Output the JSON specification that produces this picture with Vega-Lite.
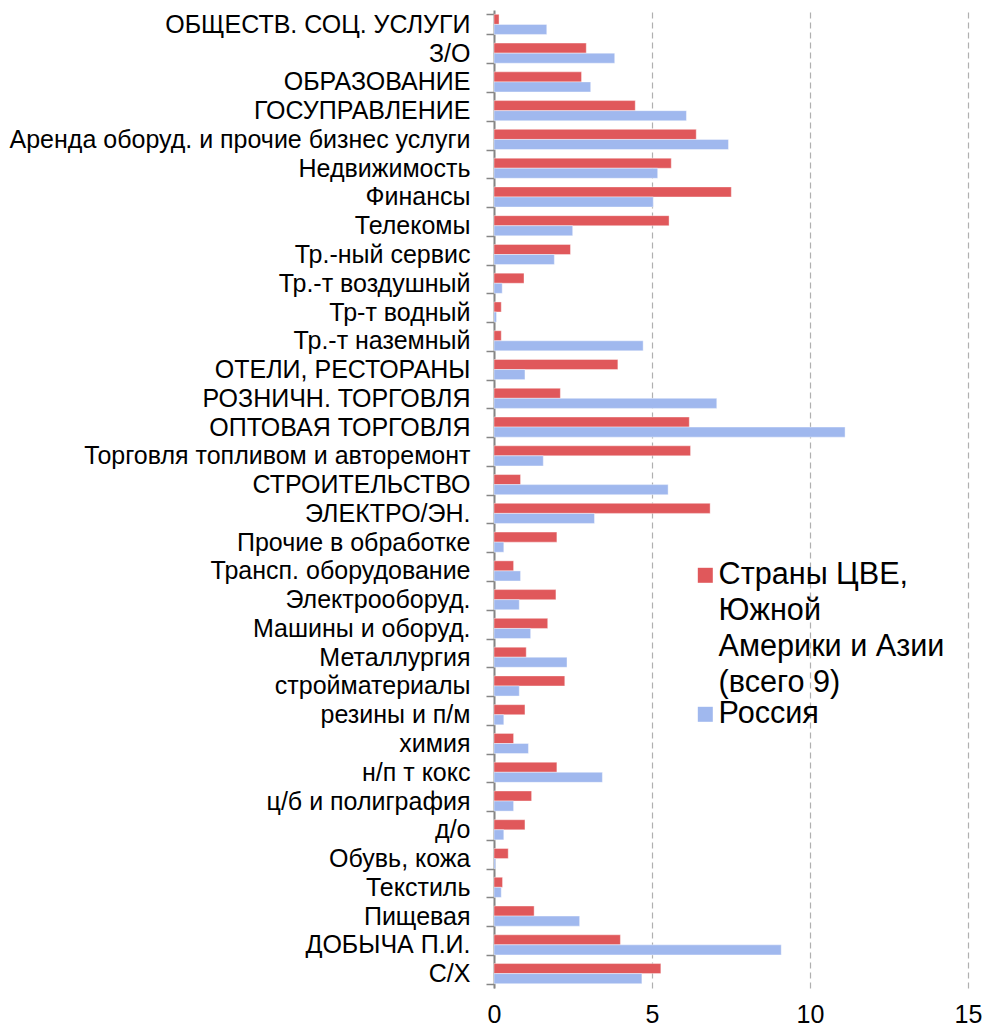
{
  "$schema": "https://vega.github.io/schema/vega-lite/v6.json",
  "width": 474,
  "height": 978,
  "autosize": {"type": "none"},
  "padding": {"left": 494, "top": 10, "right": 18, "bottom": 40},
  "background": "white",
  "config": {
    "view": {"stroke": null},
    "font": "Liberation Sans",
    "style": {"guide-label": {"lineHeight": 36}}
  },
  "datasets": {
    "rows": [
      {"sector": "ОБЩЕСТВ. СОЦ. УСЛУГИ", "cee": 0.16, "ru": 1.67},
      {"sector": "З/О", "cee": 2.92, "ru": 3.82},
      {"sector": "ОБРАЗОВАНИЕ", "cee": 2.77, "ru": 3.06},
      {"sector": "ГОСУПРАВЛЕНИЕ", "cee": 4.47, "ru": 6.09},
      {"sector": "Аренда оборуд. и прочие бизнес услуги", "cee": 6.40, "ru": 7.42},
      {"sector": "Недвижимость", "cee": 5.61, "ru": 5.18},
      {"sector": "Финансы", "cee": 7.51, "ru": 5.04},
      {"sector": "Телекомы", "cee": 5.54, "ru": 2.49},
      {"sector": "Тр.-ный сервис", "cee": 2.42, "ru": 1.91},
      {"sector": "Тр.-т воздушный", "cee": 0.95, "ru": 0.26},
      {"sector": "Тр-т водный", "cee": 0.23, "ru": 0.08},
      {"sector": "Тр.-т наземный", "cee": 0.23, "ru": 4.72},
      {"sector": "ОТЕЛИ, РЕСТОРАНЫ", "cee": 3.92, "ru": 0.98},
      {"sector": "РОЗНИЧН. ТОРГОВЛЯ", "cee": 2.10, "ru": 7.05},
      {"sector": "ОПТОВАЯ ТОРГОВЛЯ", "cee": 6.18, "ru": 11.11},
      {"sector": "Торговля топливом и авторемонт", "cee": 6.22, "ru": 1.56},
      {"sector": "СТРОИТЕЛЬСТВО", "cee": 0.84, "ru": 5.51},
      {"sector": "ЭЛЕКТРО/ЭН.", "cee": 6.84, "ru": 3.18},
      {"sector": "Прочие в обработке", "cee": 1.99, "ru": 0.31},
      {"sector": "Трансп. оборудование", "cee": 0.62, "ru": 0.84},
      {"sector": "Электрооборуд.", "cee": 1.96, "ru": 0.80},
      {"sector": "Машины и оборуд.", "cee": 1.70, "ru": 1.16},
      {"sector": "Металлургия", "cee": 1.02, "ru": 2.31},
      {"sector": "стройматериалы", "cee": 2.24, "ru": 0.80},
      {"sector": "резины и п/м", "cee": 0.98, "ru": 0.31},
      {"sector": "химия", "cee": 0.62, "ru": 1.09},
      {"sector": "н/п т кокс", "cee": 1.99, "ru": 3.43},
      {"sector": "ц/б и полиграфия", "cee": 1.19, "ru": 0.62},
      {"sector": "д/о", "cee": 0.98, "ru": 0.31},
      {"sector": "Обувь, кожа", "cee": 0.45, "ru": 0.05},
      {"sector": "Текстиль", "cee": 0.27, "ru": 0.23},
      {"sector": "Пищевая", "cee": 1.27, "ru": 2.71},
      {"sector": "ДОБЫЧА П.И.", "cee": 4.00, "ru": 9.09},
      {"sector": "С/Х", "cee": 5.28, "ru": 4.68}
    ]
  },
  "data": {"name": "rows"},
  "transform": [
    {"fold": ["cee", "ru"], "as": ["key", "value"]},
    {"lookup": "key", "from": {"data": {"values": [
      {"key": "cee", "series": "Страны ЦВЕ, Южной Америки и Азии (всего 9)"},
      {"key": "ru", "series": "Россия"}
    ]}, "key": "key", "fields": ["series"]}}
  ],
  "mark": {"type": "bar", "stroke": "white", "strokeOpacity": 0.4, "strokeWidth": 1},
  "encoding": {
    "y": {
      "field": "sector",
      "type": "nominal",
      "sort": null,
      "scale": {"paddingInner": 0.3, "paddingOuter": 0.15},
      "axis": {
        "title": null,
        "tickBand": "extent",
        "tickSize": 8,
        "tickColor": "#868686",
        "tickWidth": 1.5,
        "domainColor": "#868686",
        "domainWidth": 2,
        "labelFontSize": 25,
        "labelColor": "#000000",
        "labelPadding": 16,
        "labelLimit": 500,
        "grid": false
      }
    },
    "yOffset": {
      "field": "series",
      "sort": ["Страны ЦВЕ, Южной Америки и Азии (всего 9)", "Россия"]
    },
    "x": {
      "field": "value",
      "type": "quantitative",
      "scale": {"domain": [0, 15], "nice": false},
      "axis": {
        "title": null,
        "values": [0, 5, 10, 15],
        "ticks": false,
        "domain": false,
        "labelFlush": false,
        "labelFontSize": 25,
        "labelColor": "#000000",
        "labelPadding": 14,
        "grid": true,
        "gridColor": "#B0B0B0",
        "gridDash": [6, 4],
        "gridWidth": 1.2
      }
    },
    "color": {
      "field": "series",
      "type": "nominal",
      "sort": ["Страны ЦВЕ, Южной Америки и Азии (всего 9)", "Россия"],
      "scale": {"range": ["#E0585B", "#A0B8EE"]},
      "legend": {
        "title": null,
        "orient": "none",
        "legendX": 196,
        "legendY": 550,
        "symbolType": "square",
        "symbolSize": 225,
        "symbolStrokeWidth": 0,
        "labelFontSize": 30.6,
        "labelColor": "#000000",
        "labelLimit": 600,
        "labelOffset": -2,
        "rowPadding": 0,
        "labelExpr": "datum.label == 'Россия' ? 'Россия' : ['Страны ЦВЕ,', 'Южной', 'Америки и Азии', '(всего 9)']"
      }
    }
  }
}
